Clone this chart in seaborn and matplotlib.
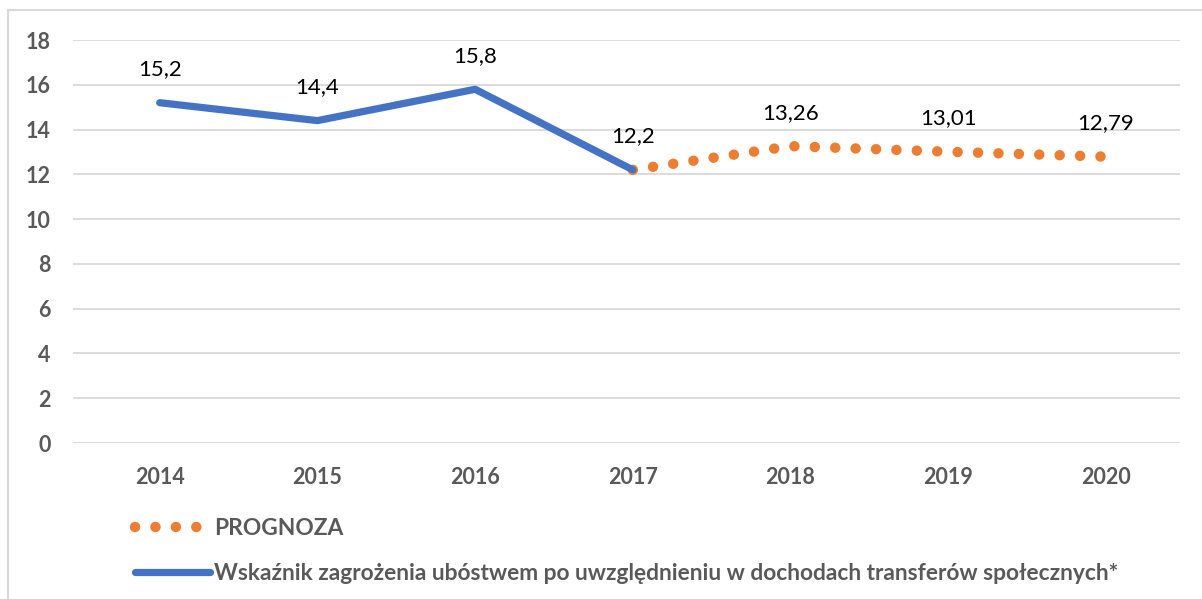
#!/usr/bin/env python3

import matplotlib

matplotlib.use("Agg")
import matplotlib.pyplot as plt
import pandas
import seaborn as sns
from matplotlib.patches import Rectangle

# Data
years = [2014, 2015, 2016, 2017, 2018, 2019, 2020]
hist_years = [2014, 2015, 2016, 2017]
hist_values = [15.2, 14.4, 15.8, 12.2]
fore_years = [2017, 2018, 2019, 2020]
fore_values = [12.2, 13.26, 13.01, 12.79]
hist_labels = ["15,2", "14,4", "15,8", "12,2"]
fore_labels = ["13,26", "13,01", "12,79"]

hist_name = "Wskaźnik zagrożenia ubóstwem po uwzględnieniu w dochodach transferów społecznych*"
fore_name = "PROGNOZA"

BLUE = "#4472C4"
ORANGE = "#ED7D31"
GRAY = "#595959"
GRID = "#D9D9D9"


def main():
    sns.set_style("white")
    plt.rcParams["font.family"] = ["Lato", "DejaVu Sans"]

    hist_df = pandas.DataFrame({"year": hist_years, "value": hist_values})
    fore_df = pandas.DataFrame({"year": fore_years, "value": fore_values})

    fig = plt.figure(figsize=(12.02, 5.99), dpi=100)
    ax = fig.add_axes([73 / 1202, 0.2604, (1180 - 73) / 1202, 0.6728])

    # Forecast first so the historical line sits on top
    sns.lineplot(
        data=fore_df, x="year", y="value", ax=ax, color=ORANGE,
        linewidth=7.5, label=fore_name,
        dashes=False, linestyle=(0, (0.01, 1.95)),
    )
    sns.lineplot(
        data=hist_df, x="year", y="value", ax=ax, color=BLUE,
        linewidth=5.2, label=hist_name,
    )
    for line in ax.get_lines():
        line.set_dash_capstyle("round")
        line.set_solid_capstyle("round")

    # Data labels
    for x, y, t in zip(hist_years, hist_values, hist_labels):
        ax.annotate(t, (x, y), xytext=(0, 24), textcoords="offset points",
                    ha="center", va="center", fontsize=16, color="black")
    for x, y, t in zip(fore_years[1:], fore_values[1:], fore_labels):
        ax.annotate(t, (x, y), xytext=(0, 24), textcoords="offset points",
                    ha="center", va="center", fontsize=16, color="black")

    ax.set_xlim(2013.45, 2020.47)
    ax.set_ylim(0, 18)
    ax.set_yticks(range(0, 19, 2))
    ax.set_xticks(years)
    ax.set_xticklabels([str(y) for y in years])
    ax.set_xlabel("")
    ax.set_ylabel("")
    ax.yaxis.grid(True, color=GRID, linewidth=1.3)
    ax.set_axisbelow(True)
    for spine in ax.spines.values():
        spine.set_visible(False)
    ax.tick_params(axis="both", length=0, labelsize=15.5, labelcolor=GRAY)
    ax.tick_params(axis="y", pad=16)
    ax.tick_params(axis="x", pad=17)
    for lab in ax.get_xticklabels() + ax.get_yticklabels():
        lab.set_fontweight("bold")

    handles, labels = ax.get_legend_handles_labels()
    ax.get_legend().remove()
    leg = fig.legend(
        handles, labels, loc="upper left", bbox_to_anchor=(0.095, 0.17),
        frameon=False, ncol=1, fontsize=16.4, handlelength=3.3,
        handletextpad=0.2, labelspacing=1.08,
    )
    for text in leg.get_texts():
        text.set_color(GRAY)
        text.set_fontweight("bold")

    # Chart border
    fig.patches.append(Rectangle(
        (8 / 1202, -0.05), 1.2, 1 - 10 / 599 + 0.05,
        transform=fig.transFigure, fill=False, edgecolor=GRID, linewidth=1.5,
    ))

    fig.savefig("out.png", dpi=100)


if __name__ == "__main__":
    main()
